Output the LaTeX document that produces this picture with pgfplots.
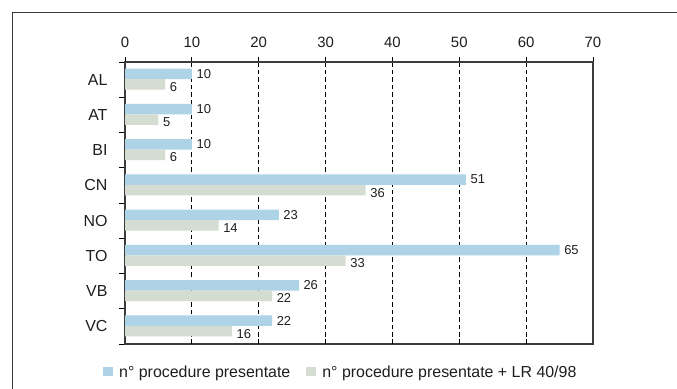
\documentclass[border=0pt]{standalone}
\usepackage{fontspec}
\setmainfont{Liberation Sans}
\usepackage{pgfplots}
\pgfplotsset{compat=1.18}

\definecolor{barblue}{RGB}{174,211,230}
\definecolor{bargrey}{RGB}{213,221,211}
\definecolor{framegrey}{RGB}{60,60,60}
\definecolor{txt}{RGB}{30,30,30}

\begin{document}
\begin{tikzpicture}
\useasboundingbox (-125bp,-327bp) rectangle (552bp,62bp);
% outer frame of the figure
\draw[framegrey, line width=1.2bp] (-112.7bp,-340bp) -- (-112.7bp,49.7bp) -- (570bp,49.7bp);

\begin{axis}[
  at={(0,0)}, anchor=north west,
  scale only axis, width=468bp, height=282bp,
  xbar, bar width=10.5bp,
  xmin=0, xmax=70, ymin=-0.5, ymax=7.5,
  xtick={0,10,...,70},
  xtick pos=upper, xticklabel pos=upper,
  tick align=outside,
  major tick length=5bp,
  minor tick length=6bp,
  xmajorgrids,
  grid style={black, line width=0.8bp, dash pattern=on 4.5bp off 3bp},
  major x tick style={black, line width=0.9bp},
  ytick={0,...,7},
  yticklabels={VC,VB,TO,NO,CN,BI,AT,AL},
  minor ytick={-0.5,0.5,...,7.5},
  major y tick style={draw=none},
  minor y tick style={black, line width=1bp},
  ytick pos=left,
  axis line style={framegrey, line width=1.3bp},
  /pgf/number format/assume math mode=true,
  tick label style={text=txt},
  xticklabel style={font=\fontsize{15}{17}\selectfont, yshift=6bp},
  yticklabel style={font=\fontsize{16}{18}\selectfont, xshift=-9bp},
  point meta=x,
  legend columns=2,
  legend style={at={(rel axis cs:-0.047,-0.1)}, anchor=west, draw=none, fill=none,
    inner sep=0pt, font=\fontsize{16}{18}\selectfont, text=txt,
    /tikz/every odd column/.append style={column sep=4bp},
    /tikz/every even column/.append style={column sep=14bp}},
  legend image code/.code={\path[#1, draw=none] (0bp,-4bp) rectangle (10bp,5bp);},
]
% number of procedures submitted
\addplot[fill=barblue, draw=none, bar shift=5.8bp,
  nodes near coords,
  every node near coord/.append style={anchor=west, inner sep=0pt, xshift=4.5bp,
    font=\fontsize{13}{15}\selectfont, text=txt}]
  coordinates {(10,7) (10,6) (10,5) (51,4) (23,3) (65,2) (26,1) (22,0)};
% procedures submitted under LR 40/98
\addplot[fill=bargrey, draw=none, bar shift=-4.7bp,
  nodes near coords,
  every node near coord/.append style={anchor=west, inner sep=0pt, xshift=4.5bp, yshift=-2.6bp,
    font=\fontsize{13}{15}\selectfont, text=txt}]
  coordinates {(6,7) (5,6) (6,5) (36,4) (14,3) (33,2) (22,1) (16,0)};
\legend{n° procedure presentate, n° procedure presentate + LR 40/98}
\end{axis}

% short inner ticks along the lower edge
\begin{axis}[
  at={(0,0)}, anchor=north west,
  scale only axis, width=468bp, height=282bp,
  xmin=0, xmax=70, ymin=0, ymax=1,
  xtick={10,20,...,60}, xticklabels={}, ytick=\empty,
  xtick pos=lower, tick align=inside,
  major tick length=5bp,
  major x tick style={black, line width=0.9bp},
  axis line style={draw=none},
]
\end{axis}
\end{tikzpicture}
\end{document}
